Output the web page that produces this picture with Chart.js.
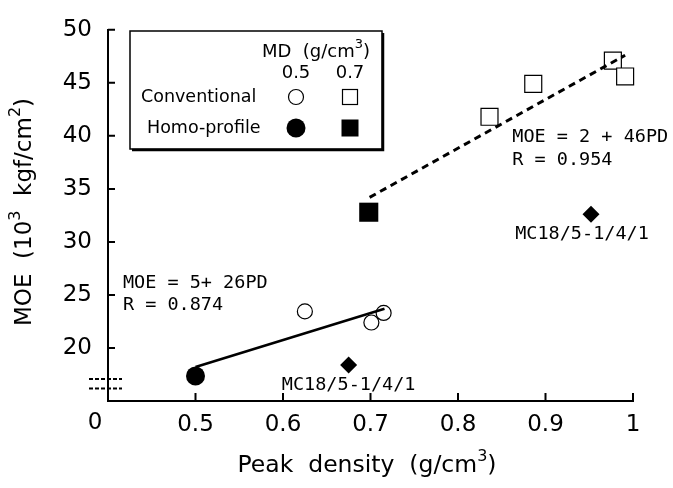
<!DOCTYPE html>
<html>
<head>
<meta charset="utf-8">
<script src="https://cdn.jsdelivr.net/npm/chart.js@4.4.1/dist/chart.umd.min.js"></script>
<style>
  html, body { margin: 0; padding: 0; background: #fff; }
  #wrap { width: 673px; height: 488px; }
</style>
</head>
<body>
<div id="wrap"><canvas id="chart" width="673" height="488"></canvas></div>
<script>
// peak density (g/cm3) vs MOE (10^3 kgf/cm2)
const convLowX = [0.625, 0.701, 0.715];
const convLowY = [23.45, 22.4, 23.3];
const convHighX = [0.836, 0.886, 0.977, 0.991];
const convHighY = [41.8, 44.9, 47.1, 45.6];
const homoLowX = [0.5];
const homoLowY = [17.35];
const homoHighX = [0.698];
const homoHighY = [32.8];
const mcX = [0.952, 0.675];
const mcY = [32.6, 18.4];
const mcLabels = ["MC18/5-1/4/1", "MC18/5-1/4/1"];

// regression lines, ends
const fitLowX = [0.5, 0.716];
const fitLowY = [18.2, 23.7];
const fitHighX = [0.699, 0.991];
const fitHighY = [34.2, 47.6];

const xTicks = [0.5, 0.6, 0.7, 0.8, 0.9, 1];
const yTicks = [20, 25, 30, 35, 40, 45, 50];

// equation notes: [text, x, y] in data units
const notes = [
  ["MOE = 2 + 46PD", 0.862, 39.9],
  ["R = 0.954", 0.862, 37.7],
  ["MOE = 5+ 26PD", 0.417, 26.1],
  ["R = 0.874", 0.417, 24.0],
];

const pts = (xs, ys) => xs.map((x, i) => ({ x: x, y: ys[i] }));
const FONT = "'DejaVu Sans', sans-serif";
const MONO = "'DejaVu Sans Mono', monospace";

// text with superscript pieces, centred on (x, y)
function richText(ctx, parts, x, y, size) {
  const sup = Math.round(size * 0.7);
  let w = 0;
  parts.forEach((p) => {
    ctx.font = (p.sup ? sup : size) + "px " + FONT;
    w += ctx.measureText(p.t).width;
  });
  let cx = x - w / 2;
  ctx.textAlign = "left";
  ctx.textBaseline = "middle";
  parts.forEach((p) => {
    ctx.font = (p.sup ? sup : size) + "px " + FONT;
    ctx.fillText(p.t, cx, p.sup ? y - size * 0.4 : y);
    cx += ctx.measureText(p.t).width;
  });
}

const extras = {
  id: "extras",
  afterDraw(chart) {
    const ctx = chart.ctx;
    const a = chart.chartArea;
    const sx = chart.scales.x;
    const sy = chart.scales.y;
    ctx.save();
    ctx.strokeStyle = "#000";
    ctx.fillStyle = "#000";

    // inward tick marks
    ctx.lineWidth = 2;
    ctx.beginPath();
    xTicks.forEach((v) => {
      const px = sx.getPixelForValue(v);
      ctx.moveTo(px, a.bottom);
      ctx.lineTo(px, a.bottom - 8);
    });
    yTicks.forEach((v) => {
      const py = sy.getPixelForValue(v);
      ctx.moveTo(a.left, py);
      ctx.lineTo(a.left + 7, py);
    });
    ctx.stroke();

    // axis break marks and the origin "0"
    ctx.lineWidth = 2;
    ctx.setLineDash([4, 2]);
    ctx.beginPath();
    [22, 12.5].forEach((d) => {
      ctx.moveTo(a.left - 19, a.bottom - d);
      ctx.lineTo(a.left + 14, a.bottom - d);
    });
    ctx.stroke();
    ctx.setLineDash([]);
    ctx.font = "23px " + FONT;
    ctx.textAlign = "center";
    ctx.textBaseline = "middle";
    ctx.fillText("0", a.left - 13, a.bottom + 22);

    // axis titles
    richText(ctx, [{ t: "Peak  density  (g/cm" }, { t: "3", sup: true }, { t: ")" }],
      367, 466, 23.5);
    ctx.save();
    ctx.translate(25, 212);
    ctx.rotate(-Math.PI / 2);
    richText(ctx, [{ t: "MOE  (10" }, { t: "3", sup: true }, { t: "  kgf/cm" }, { t: "2", sup: true }, { t: ")" }],
      0, 0, 23);
    ctx.restore();

    // equations
    ctx.font = "18.5px " + MONO;
    ctx.textAlign = "left";
    ctx.textBaseline = "middle";
    notes.forEach(([t, x, y]) => {
      ctx.fillText(t, sx.getPixelForValue(x), sy.getPixelForValue(y));
    });

    // MC labels under the diamonds
    ctx.textAlign = "center";
    const dx = [-9, 0];
    mcX.forEach((x, i) => {
      ctx.fillText(mcLabels[i], sx.getPixelForValue(x) + dx[i], sy.getPixelForValue(mcY[i]) + 20);
    });

    // legend box
    const L = a.left + 22, T = 31, W = 252, H = 118;
    ctx.fillStyle = "#fff";
    ctx.fillRect(L, T, W, H);
    ctx.lineWidth = 1.5;
    ctx.strokeRect(L, T, W, H);
    ctx.lineWidth = 2.5;
    ctx.beginPath();
    ctx.moveTo(L + W + 1, T + 2);
    ctx.lineTo(L + W + 1, T + H + 1);
    ctx.lineTo(L + 2, T + H + 1);
    ctx.stroke();

    ctx.fillStyle = "#000";
    richText(ctx, [{ t: "MD  (g/cm" }, { t: "3", sup: true }, { t: ")" }], L + 186, T + 21, 18);
    ctx.font = "18px " + FONT;
    ctx.textAlign = "center";
    ctx.fillText("0.5", L + 166, T + 42);
    ctx.fillText("0.7", L + 220, T + 42);
    ctx.font = "17.5px " + FONT;
    ctx.textAlign = "left";
    ctx.fillText("Conventional", L + 11, T + 66);
    ctx.fillText("Homo-profile", L + 17, T + 97);

    ctx.lineWidth = 1.2;
    ctx.beginPath();
    ctx.arc(L + 166, T + 66, 7.5, 0, Math.PI * 2);
    ctx.stroke();
    ctx.strokeRect(L + 212.5, T + 58.5, 15, 15);
    ctx.beginPath();
    ctx.arc(L + 166, T + 97, 9.5, 0, Math.PI * 2);
    ctx.fill();
    ctx.fillRect(L + 211.5, T + 88.5, 17, 17);

    ctx.restore();
  },
};

const data = {
  datasets: [
    {
      label: "fit 0.7",
      data: pts(fitHighX, fitHighY),
      showLine: true,
      borderColor: "#000",
      borderWidth: 3,
      borderDash: [7, 5],
      pointRadius: 0,
    },
    {
      label: "fit 0.5",
      data: pts(fitLowX, fitLowY),
      showLine: true,
      borderColor: "#000",
      borderWidth: 2.5,
      pointRadius: 0,
    },
    {
      label: "Conventional 0.5",
      data: pts(convLowX, convLowY),
      pointStyle: "circle",
      pointRadius: 7.5,
      borderColor: "#000",
      borderWidth: 1.2,
      backgroundColor: "#fff",
    },
    {
      label: "Conventional 0.7",
      data: pts(convHighX, convHighY),
      pointStyle: "rect",
      pointRadius: 12,
      borderColor: "#000",
      borderWidth: 1.2,
      backgroundColor: "#fff",
    },
    {
      label: "Homo-profile 0.5",
      data: pts(homoLowX, homoLowY),
      pointStyle: "circle",
      pointRadius: 9.5,
      borderColor: "#000",
      borderWidth: 0,
      backgroundColor: "#000",
    },
    {
      label: "Homo-profile 0.7",
      data: pts(homoHighX, homoHighY),
      pointStyle: "rect",
      pointRadius: 13.5,
      borderColor: "#000",
      borderWidth: 0,
      backgroundColor: "#000",
    },
    {
      label: "MC18/5-1/4/1",
      data: pts(mcX, mcY),
      pointStyle: "rectRot",
      pointRadius: 8.5,
      borderColor: "#000",
      borderWidth: 0,
      backgroundColor: "#000",
    },
  ],
};

const config = {
  type: "scatter",
  data: data,
  options: {
    responsive: false,
    animation: false,
    clip: false,
    layout: { padding: { left: 0, right: 40, top: 24, bottom: 0 } },
    plugins: {
      legend: { display: false },
      tooltip: { enabled: false },
    },
    scales: {
      x: {
        type: "linear",
        min: 0.4,
        max: 1,
        afterBuildTicks: (s) => { s.ticks = xTicks.map((v) => ({ value: v })); },
        afterFit: (s) => { s.height = 87; },
        grid: { display: false, drawTicks: false },
        border: { display: true, color: "#000", width: 2 },
        ticks: {
          color: "#000",
          font: { family: FONT, size: 23 },
          padding: 10,
          maxRotation: 0,
          callback: (v) => String(v),
        },
      },
      y: {
        type: "linear",
        min: 15,
        max: 50,
        afterBuildTicks: (s) => { s.ticks = yTicks.map((v) => ({ value: v })); },
        afterFit: (s) => { s.width = 108; },
        grid: { display: false, drawTicks: false },
        border: { display: true, color: "#000", width: 2 },
        ticks: {
          color: "#000",
          font: { family: FONT, size: 23 },
          padding: 16,
          callback: (v) => String(v),
        },
      },
    },
  },
  plugins: [extras],
};

const chart = new Chart(document.getElementById("chart"), config);
</script>
</body>
</html>
